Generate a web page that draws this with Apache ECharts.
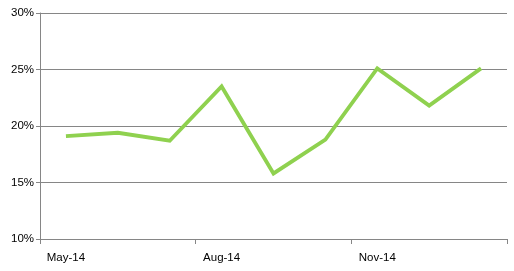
<!DOCTYPE html>
<html><head><meta charset="utf-8">
<script src="https://cdn.jsdelivr.net/npm/echarts@6/dist/echarts.min.js"></script>
<style>html,body{margin:0;padding:0;background:#fff}#c{width:514px;height:271px}</style>
</head><body><div id="c"></div>
<script>
const categories = ['May-14','Jun-14','Jul-14','Aug-14','Sep-14','Oct-14','Nov-14','Dec-14','Jan-15'];
const values = [19.1, 19.4, 18.7, 23.5, 15.8, 18.8, 25.1, 21.8, 25.1];
const yTicks = [10, 15, 20, 25, 30];

const chart = echarts.init(document.getElementById('c'), null, {renderer:'canvas'});
chart.setOption({
  animation:false,
  grid:{left:40, right:7, top:13, bottom:32, containLabel:false},
  xAxis:{
    type:'category', data:categories, boundaryGap:true,
    axisLine:{lineStyle:{color:'#868686', width:1}},
    axisTick:{show:true, interval:2, length:5, lineStyle:{color:'#868686'}},
    axisLabel:{interval:2, color:'#000', fontFamily:'Liberation Sans', fontSize:11.5, margin:13}
  },
  yAxis:{
    type:'value', min:yTicks[0], max:yTicks[yTicks.length-1], interval:5,
    axisLine:{show:true, lineStyle:{color:'#868686'}},
    axisTick:{show:true, length:4, lineStyle:{color:'#868686'}},
    splitLine:{lineStyle:{color:'#868686', width:1}},
    axisLabel:{formatter:v=>v+'%', color:'#000', fontFamily:'Liberation Sans', fontSize:11.5, margin:6}
  },
  series:[{
    type:'line', data:values, symbol:'none',
    lineStyle:{color:'#8fd14f', width:3.8, join:'miter'}
  }]
});
</script></body></html>
